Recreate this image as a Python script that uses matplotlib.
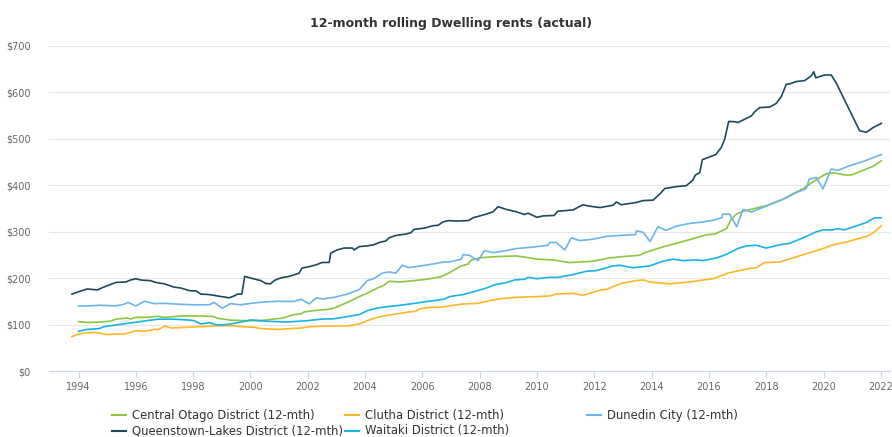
import matplotlib
matplotlib.use('Agg')
import matplotlib.pyplot as plt
from matplotlib.lines import Line2D

# Central Otago District
co_x = [1994.0, 1994.3, 1994.78, 1995.13, 1995.3, 1995.7, 1995.82, 1996.0, 1996.4, 1996.76, 1996.99,
        1997.34, 1997.57, 1998.27, 1998.73, 1998.85, 1999.3, 1999.78, 2000.36, 2000.83, 2001.1, 2001.52,
        2001.76, 2001.87, 2002.22, 2002.69, 2002.92, 2003.38, 2003.8, 2004.08, 2004.43, 2004.66, 2004.84,
        2005.24, 2005.71, 2006.17, 2006.64, 2006.95, 2007.3, 2007.6, 2007.7, 2008.0, 2008.58, 2009.28,
        2009.63, 2010.0, 2010.56, 2011.14, 2011.95, 2012.53, 2013.0, 2013.58, 2013.76, 2014.4, 2014.92,
        2015.44, 2015.91, 2016.2, 2016.61, 2016.78, 2016.96, 2017.25, 2018.0, 2018.59, 2019.05, 2019.28,
        2019.57, 2019.75, 2020.1, 2020.39, 2020.74, 2020.97, 2021.38, 2021.73, 2022.02]
co_y = [107, 105, 106, 108, 112, 114.7, 112.5, 116, 116, 118, 116,
        117.6, 119, 119, 117.6, 114, 110, 109, 109, 112.5, 114, 122,
        123, 127.6, 130.5, 133, 136, 148, 160.6, 168, 179, 185, 193.5,
        192, 195, 198, 203, 212, 225, 231, 239, 244, 246.6, 248,
        245, 241, 239.4, 233.7, 236.6, 243.7, 246.6, 249.5, 255, 267.6, 276,
        285, 293.5, 295, 306.5, 326.6, 338, 345, 356, 370, 385.6, 392,
        405, 412, 425, 426.6, 422, 422, 432, 441, 452.5]

# Clutha District
cl_x = [1993.77, 1994.0, 1994.3, 1994.66, 1995.0, 1995.3, 1995.6, 1996.0, 1996.3, 1996.64, 1996.8,
        1997.02, 1997.22, 1997.8, 1998.27, 1998.97, 1999.43, 1999.66, 2000.13, 2000.36, 2000.94, 2001.4,
        2001.76, 2002.1, 2002.92, 2003.38, 2003.8, 2004.08, 2004.43, 2004.78, 2005.07, 2005.53, 2005.76,
        2005.94, 2006.3, 2006.64, 2007.07, 2007.42, 2007.94, 2008.35, 2008.7, 2009.28, 2010.0, 2010.44,
        2010.67, 2011.26, 2011.6, 2011.84, 2012.24, 2012.42, 2012.94, 2013.47, 2013.7, 2013.93, 2014.63,
        2015.1, 2015.5, 2015.8, 2016.14, 2016.72, 2017.42, 2017.65, 2017.94, 2018.47, 2018.99, 2019.51,
        2019.98, 2020.33, 2020.8, 2021.14, 2021.49, 2021.72, 2022.01]
cl_y = [74.6, 80, 83, 83, 79, 80, 80, 87.5, 86, 90, 90,
        97.5, 93, 94.6, 96, 98, 98, 96, 94.6, 92, 90, 91.8,
        93, 96, 97.5, 97.5, 101.8, 109, 116, 120.4, 123, 127.6, 129,
        134.8, 137.6, 137.6, 142, 144.8, 146, 152, 156, 159, 160.6, 162,
        166, 167.7, 163.4, 167.7, 175, 176, 189, 195, 196.4, 192, 188,
        190.7, 193.5, 196.4, 199, 212, 221, 222.6, 233.7, 235, 245, 255,
        263.8, 272, 278, 284, 289.6, 296.8, 312.5]

# Dunedin City
du_x = [1994.0, 1994.3, 1994.78, 1995.24, 1995.53, 1995.73, 1996.0, 1996.3, 1996.64, 1996.99, 1997.57,
        1998.03, 1998.56, 1998.73, 1999.02, 1999.3, 1999.66, 2000.0, 2000.48, 2000.94, 2001.52, 2001.76,
        2002.05, 2002.3, 2002.53, 2002.92, 2003.38, 2003.8, 2004.08, 2004.3, 2004.6, 2004.84, 2005.07,
        2005.3, 2005.53, 2005.94, 2006.4, 2006.76, 2006.95, 2007.36, 2007.42, 2007.65, 2007.94, 2008.17,
        2008.47, 2008.93, 2009.28, 2009.86, 2010.38, 2010.44, 2010.67, 2010.97, 2011.2, 2011.49, 2011.95,
        2012.42, 2013.0, 2013.44, 2013.47, 2013.7, 2013.95, 2014.22, 2014.5, 2014.86, 2015.33, 2015.8,
        2016.17, 2016.45, 2016.48, 2016.72, 2016.97, 2017.19, 2017.48, 2018.0, 2018.59, 2019.05, 2019.4,
        2019.5, 2019.75, 2019.98, 2020.27, 2020.5, 2020.91, 2021.38, 2022.02]
du_y = [140.5, 140.5, 142, 140.5, 143, 148, 140.5, 150.5, 145.5, 146, 144,
        143, 143, 148, 135.5, 145.5, 143, 146, 149, 150.5, 150, 155,
        145, 158, 155.5, 159, 166, 176, 195, 199, 211, 213.6, 211,
        228, 223, 226.5, 231, 235, 235, 241, 251, 249, 238, 259.5,
        255, 259.5, 264, 267, 271, 277, 277, 261, 287, 281, 284,
        290, 292.5, 294, 302, 299, 279, 311, 303, 312, 318, 321,
        325, 330, 338, 338, 311, 348, 342.5, 355, 370, 384, 393,
        413, 416.5, 392, 435, 432, 442, 451, 466]

# Queenstown-Lakes District
ql_x = [1993.77, 1994.0, 1994.3, 1994.66, 1994.8, 1995.3, 1995.65, 1995.8, 1996.0, 1996.2, 1996.5,
        1996.7, 1997.0, 1997.33, 1997.57, 1997.9, 1998.1, 1998.27, 1998.56, 1998.85, 1999.26, 1999.43,
        1999.55, 1999.7, 1999.8, 2000.1, 2000.36, 2000.53, 2000.7, 2000.83, 2001.06, 2001.35, 2001.7,
        2001.8, 2002.05, 2002.3, 2002.5, 2002.75, 2002.8, 2003.03, 2003.27, 2003.56, 2003.62, 2003.8,
        2004.1, 2004.3, 2004.55, 2004.72, 2004.84, 2005.07, 2005.42, 2005.6, 2005.71, 2006.08, 2006.37,
        2006.55, 2006.72, 2006.9, 2007.19, 2007.6, 2007.77, 2008.23, 2008.47, 2008.64, 2008.93, 2009.28,
        2009.57, 2009.69, 2010.0, 2010.2, 2010.6, 2010.72, 2011.26, 2011.6, 2011.84, 2012.2, 2012.65,
        2012.77, 2012.94, 2013.47, 2013.7, 2014.05, 2014.3, 2014.46, 2014.86, 2015.21, 2015.44, 2015.53,
        2015.68, 2015.77, 2016.03, 2016.24, 2016.43, 2016.55, 2016.69, 2016.84, 2017.02, 2017.25, 2017.48,
        2017.6, 2017.77, 2018.12, 2018.35, 2018.53, 2018.7, 2018.82, 2019.05, 2019.34, 2019.57, 2019.66,
        2019.73, 2020.04, 2020.27, 2020.45, 2021.26, 2021.5, 2021.73, 2022.02]
ql_y = [166, 171, 177, 175, 179, 191, 192, 196, 199, 196, 195,
        191, 188, 181, 179, 173, 173, 166, 165, 162, 158, 162,
        166, 166, 204, 199, 195, 189, 188, 195, 201, 204, 211,
        222, 225, 229, 234, 234, 254, 261, 265, 265, 261, 268,
        270, 272, 278, 280, 287, 292, 295, 298, 305, 308, 313,
        314, 321, 324, 323, 324, 330, 338, 343, 354, 348, 343,
        337, 340, 331, 334, 335, 344, 347, 358, 355, 352, 357,
        364, 358, 363, 367, 368, 382, 393, 397, 399, 411, 422,
        427, 455, 461, 466, 481, 499, 537, 537, 535, 542, 549,
        558, 567, 568, 576, 591, 617, 618, 623, 625, 635, 644,
        631, 637, 637, 619, 517, 514, 524, 533]

# Waitaki District
wa_x = [1994.0, 1994.3, 1994.72, 1994.9, 1995.24, 1995.7, 1996.06, 1996.4, 1996.76, 1997.34, 1997.8,
        1998.03, 1998.27, 1998.56, 1998.8, 1999.08, 1999.43, 2000.03, 2000.6, 2001.3, 2002.0, 2002.45,
        2002.92, 2003.38, 2003.8, 2004.08, 2004.43, 2004.78, 2005.24, 2005.71, 2006.06, 2006.4, 2006.76,
        2006.95, 2007.42, 2007.77, 2008.23, 2008.52, 2008.93, 2009.22, 2009.57, 2009.69, 2010.0, 2010.44,
        2010.73, 2011.26, 2011.72, 2012.07, 2012.65, 2012.88, 2013.35, 2013.93, 2014.4, 2014.74, 2015.1,
        2015.56, 2015.8, 2016.26, 2016.6, 2017.0, 2017.3, 2017.65, 2018.0, 2018.47, 2018.81, 2019.28,
        2019.74, 2019.98, 2020.33, 2020.5, 2020.73, 2021.14, 2021.49, 2021.78, 2022.01]
wa_y = [86, 90, 91.8, 96, 99, 103, 106, 109, 112, 112, 110.4,
        109, 101.8, 104.7, 100, 100, 103, 110.4, 107.5, 106, 109, 112,
        113, 117.6, 122, 130.5, 136, 139, 142, 146, 149, 152, 155,
        160.6, 165, 170.6, 179, 186, 190.7, 196.4, 198, 202, 199, 202,
        202, 208, 215, 216.5, 226.5, 228, 222.6, 226.5, 236.6, 241, 238,
        239.4, 238, 243.7, 251, 263.8, 269.5, 271, 265, 272, 275, 286.7,
        299.6, 304, 304, 306.8, 304, 312.5, 319.7, 330, 330]

names = ['Central Otago District (12-mth)', 'Clutha District (12-mth)', 'Dunedin City (12-mth)',
         'Queenstown-Lakes District (12-mth)', 'Waitaki District (12-mth)']
colors = ['#8dc63f', '#fdb827', '#6bb5ea', '#1c4a5a', '#17b3e6']
series = [(co_x, co_y), (cl_x, cl_y), (du_x, du_y), (ql_x, ql_y), (wa_x, wa_y)]

year_ticks = list(range(1994, 2023, 2))
value_ticks = [0, 100, 200, 300, 400, 500, 600, 700]

fig = plt.figure(figsize=(8.92, 4.37), dpi=100)
ax = fig.add_axes([49 / 892, 1 - 371.3 / 437, (890 - 49) / 892, (371.3 - 45.7) / 437])

for (x, y), c in zip(series, colors):
    ax.plot(x, y, color=c, linewidth=1.2, solid_joinstyle='round')

ax.set_xlim(1992.97, 2022.32)
ax.set_ylim(0, 700)
ax.set_xticks(year_ticks)
ax.set_xticklabels([str(t) for t in year_ticks])
ax.set_yticks(value_ticks)
ax.set_yticklabels(['$' + str(v) for v in value_ticks])
ax.grid(axis='y', color='#e6e6e6', linewidth=0.8)
ax.set_axisbelow(True)
for s in ['top', 'right', 'left']:
    ax.spines[s].set_visible(False)
ax.spines['bottom'].set_color('#ccd6eb')
ax.spines['bottom'].set_linewidth(0.8)
ax.tick_params(axis='x', length=5, color='#ccd6eb', labelsize=7, labelcolor='#666666', pad=3)
ax.tick_params(axis='y', length=0, labelsize=7, labelcolor='#666666', pad=13)

fig.text(0.506, 1 - 23 / 437, '12-month rolling Dwelling rents (actual)', ha='center', va='center',
         fontsize=9, fontweight='bold', color='#333333')

# legend, placed like the original
leg_pos = [(112, 415), (345, 415), (587, 415), (112, 430.7), (345, 430.7)]
for (lx, ly), name, c in zip(leg_pos, names, colors):
    fy = 1 - ly / 437
    fig.add_artist(Line2D([lx / 892, (lx + 14) / 892], [fy, fy], color=c, linewidth=1.5,
                          transform=fig.transFigure))
    fig.text((lx + 20) / 892, fy, name, ha='left', va='center', fontsize=8.4, color='#333333')

fig.savefig('out.png', dpi=100)
